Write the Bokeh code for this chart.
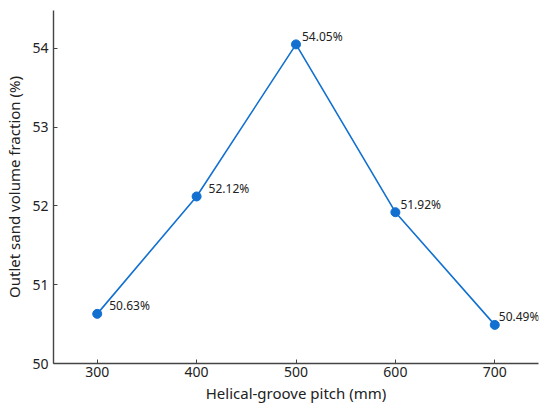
from bokeh.plotting import figure
from bokeh.models import ColumnDataSource, Range1d, FixedTicker, LabelSet
from bokeh.core.properties import value
from bokeh.embed import file_html
from bokeh.resources import INLINE

pitch = [300, 400, 500, 600, 700]
fraction = [50.63, 52.12, 54.05, 51.92, 50.49]
labels = ["50.63%", "52.12%", "54.05%", "51.92%", "50.49%"]
x_ticks = [300, 400, 500, 600, 700]
y_ticks = [50, 51, 52, 53, 54]
label_dx = [12, 12, 6, 5, 4]

FONT = "Noto Sans"
BLUE = "#1170d0"

src = ColumnDataSource(dict(x=pitch, y=fraction, t=labels, dx=label_dx))

p = figure(width=542, height=405, output_backend="svg", toolbar_location=None,
           x_range=Range1d(256, 744), y_range=Range1d(50, 54.48),
           min_border_left=53, min_border_right=4, min_border_top=10, min_border_bottom=42)
p.outline_line_color = None
p.xgrid.grid_line_color = None
p.ygrid.grid_line_color = None
p.background_fill_color = "white"
p.border_fill_color = "white"

p.line("x", "y", source=src, line_color=BLUE, line_width=1.6)
p.scatter("x", "y", source=src, size=9, fill_color=BLUE, line_color=BLUE)
p.add_layout(LabelSet(x="x", y="y", text="t", source=src, x_offset="dx", y_offset=8,
                      text_font=value(FONT), text_font_size=value("12px"),
                      text_color="#222222",
                      text_baseline="middle", text_align="left"))

for ax in (p.xaxis[0], p.yaxis[0]):
    ax.axis_line_color = "#444444"
    ax.axis_line_width = 1.4
    ax.major_tick_line_color = "#444444"
    ax.major_tick_in = 4
    ax.major_tick_out = 0
    ax.minor_tick_line_color = None
    ax.major_label_text_font = FONT
    ax.major_label_text_font_size = "14px"
    ax.major_label_text_color = "#222222"
    ax.axis_label_text_font = FONT
    ax.axis_label_text_font_size = "15px"
    ax.axis_label_text_font_style = "normal"
    ax.axis_label_text_color = "#222222"

p.xaxis.ticker = FixedTicker(ticks=x_ticks)
p.yaxis.ticker = FixedTicker(ticks=y_ticks)
p.xaxis.axis_label = "Helical-groove pitch (mm)"
p.yaxis.axis_label = "Outlet sand volume fraction (%)"
p.xaxis.major_label_standoff = 3
p.yaxis.major_label_standoff = 5
p.xaxis.axis_label_standoff = 3
p.yaxis.axis_label_standoff = 5

open("out.html", "w").write(file_html(p, INLINE))
